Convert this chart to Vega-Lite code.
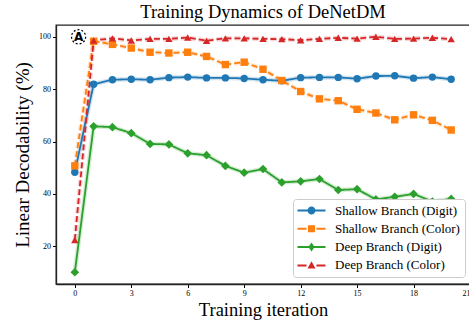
{
  "$schema": "https://vega.github.io/schema/vega-lite/v6.json",
  "width": 414,
  "height": 259,
  "autosize": {"type": "none"},
  "padding": {"left": 56, "top": 25, "right": 0, "bottom": 36},
  "background": "white",
  "config": {
    "font": "Liberation Serif",
    "view": {"stroke": "#222222", "strokeWidth": 1.3},
    "axis": {"grid": false, "domainColor": "#222222", "domainWidth": 1.3, "tickColor": "black", "labelColor": "black", "titleColor": "black", "labelFont": "Liberation Serif", "titleFont": "Liberation Serif", "labelFontSize": 8, "titleFontWeight": "normal", "tickSize": 3.5, "labelPadding": 2},
    "legend": {"labelFont": "Times New Roman", "labelFontSize": 13, "labelColor": "black"}
  },
  "title": {"text": "Training Dynamics of DeNetDM", "font": "Liberation Serif", "fontSize": 18.5, "fontWeight": "normal", "color": "black", "anchor": "middle", "offset": 4},
  "datasets": {
    "main": [
      {"x":0,"y":48.3,"series":"Shallow Branch (Digit)"},{"x":1,"y":81.9,"series":"Shallow Branch (Digit)"},{"x":2,"y":83.6,"series":"Shallow Branch (Digit)"},{"x":3,"y":83.8,"series":"Shallow Branch (Digit)"},{"x":4,"y":83.6,"series":"Shallow Branch (Digit)"},{"x":5,"y":84.4,"series":"Shallow Branch (Digit)"},{"x":6,"y":84.6,"series":"Shallow Branch (Digit)"},{"x":7,"y":84.3,"series":"Shallow Branch (Digit)"},{"x":8,"y":84.3,"series":"Shallow Branch (Digit)"},{"x":9,"y":84.1,"series":"Shallow Branch (Digit)"},{"x":10,"y":83.6,"series":"Shallow Branch (Digit)"},{"x":11,"y":83.2,"series":"Shallow Branch (Digit)"},{"x":12,"y":84.4,"series":"Shallow Branch (Digit)"},{"x":13,"y":84.5,"series":"Shallow Branch (Digit)"},{"x":14,"y":84.5,"series":"Shallow Branch (Digit)"},{"x":15,"y":84.0,"series":"Shallow Branch (Digit)"},{"x":16,"y":85.0,"series":"Shallow Branch (Digit)"},{"x":17,"y":85.1,"series":"Shallow Branch (Digit)"},{"x":18,"y":84.2,"series":"Shallow Branch (Digit)"},{"x":19,"y":84.6,"series":"Shallow Branch (Digit)"},{"x":20,"y":83.8,"series":"Shallow Branch (Digit)"},
      {"x":0,"y":50.7,"series":"Shallow Branch (Color)"},{"x":1,"y":98.3,"series":"Shallow Branch (Color)"},{"x":2,"y":97.1,"series":"Shallow Branch (Color)"},{"x":3,"y":95.7,"series":"Shallow Branch (Color)"},{"x":4,"y":94.1,"series":"Shallow Branch (Color)"},{"x":5,"y":93.8,"series":"Shallow Branch (Color)"},{"x":6,"y":94.1,"series":"Shallow Branch (Color)"},{"x":7,"y":92.5,"series":"Shallow Branch (Color)"},{"x":8,"y":89.4,"series":"Shallow Branch (Color)"},{"x":9,"y":90.3,"series":"Shallow Branch (Color)"},{"x":10,"y":87.6,"series":"Shallow Branch (Color)"},{"x":11,"y":83.3,"series":"Shallow Branch (Color)"},{"x":12,"y":79.1,"series":"Shallow Branch (Color)"},{"x":13,"y":76.3,"series":"Shallow Branch (Color)"},{"x":14,"y":75.6,"series":"Shallow Branch (Color)"},{"x":15,"y":72.3,"series":"Shallow Branch (Color)"},{"x":16,"y":70.9,"series":"Shallow Branch (Color)"},{"x":17,"y":68.3,"series":"Shallow Branch (Color)"},{"x":18,"y":70.2,"series":"Shallow Branch (Color)"},{"x":19,"y":68.1,"series":"Shallow Branch (Color)"},{"x":20,"y":64.4,"series":"Shallow Branch (Color)"},
      {"x":0,"y":10.1,"series":"Deep Branch (Digit)"},{"x":1,"y":65.8,"series":"Deep Branch (Digit)"},{"x":2,"y":65.5,"series":"Deep Branch (Digit)"},{"x":3,"y":63.2,"series":"Deep Branch (Digit)"},{"x":4,"y":59.1,"series":"Deep Branch (Digit)"},{"x":5,"y":58.9,"series":"Deep Branch (Digit)"},{"x":6,"y":55.5,"series":"Deep Branch (Digit)"},{"x":7,"y":54.8,"series":"Deep Branch (Digit)"},{"x":8,"y":50.7,"series":"Deep Branch (Digit)"},{"x":9,"y":48.1,"series":"Deep Branch (Digit)"},{"x":10,"y":49.5,"series":"Deep Branch (Digit)"},{"x":11,"y":44.4,"series":"Deep Branch (Digit)"},{"x":12,"y":44.8,"series":"Deep Branch (Digit)"},{"x":13,"y":45.7,"series":"Deep Branch (Digit)"},{"x":14,"y":41.5,"series":"Deep Branch (Digit)"},{"x":15,"y":41.8,"series":"Deep Branch (Digit)"},{"x":16,"y":37.9,"series":"Deep Branch (Digit)"},{"x":17,"y":38.9,"series":"Deep Branch (Digit)"},{"x":18,"y":40.0,"series":"Deep Branch (Digit)"},{"x":19,"y":37.1,"series":"Deep Branch (Digit)"},{"x":20,"y":38.1,"series":"Deep Branch (Digit)"},
      {"x":0,"y":22.4,"series":"Deep Branch (Color)"},{"x":1,"y":98.6,"series":"Deep Branch (Color)"},{"x":2,"y":99.4,"series":"Deep Branch (Color)"},{"x":3,"y":98.6,"series":"Deep Branch (Color)"},{"x":4,"y":99.2,"series":"Deep Branch (Color)"},{"x":5,"y":99.2,"series":"Deep Branch (Color)"},{"x":6,"y":99.7,"series":"Deep Branch (Color)"},{"x":7,"y":98.5,"series":"Deep Branch (Color)"},{"x":8,"y":99.4,"series":"Deep Branch (Color)"},{"x":9,"y":99.4,"series":"Deep Branch (Color)"},{"x":10,"y":99.2,"series":"Deep Branch (Color)"},{"x":11,"y":99.1,"series":"Deep Branch (Color)"},{"x":12,"y":98.7,"series":"Deep Branch (Color)"},{"x":13,"y":99.2,"series":"Deep Branch (Color)"},{"x":14,"y":99.6,"series":"Deep Branch (Color)"},{"x":15,"y":99.3,"series":"Deep Branch (Color)"},{"x":16,"y":100.0,"series":"Deep Branch (Color)"},{"x":17,"y":99.2,"series":"Deep Branch (Color)"},{"x":18,"y":99.3,"series":"Deep Branch (Color)"},{"x":19,"y":99.6,"series":"Deep Branch (Color)"},{"x":20,"y":99.1,"series":"Deep Branch (Color)"}
    ],
    "note": [{"x": 0.2, "y": 100, "label": "A"}]
  },
  "data": {"name": "main"},
  "encoding": {
    "x": {"field": "x", "type": "quantitative", "scale": {"domain": [-1, 21], "nice": false, "zero": false}, "axis": {"values": [0,3,6,9,12,15,18,21], "title": "Training iteration", "titleFontSize": 18.5, "titlePadding": 3}},
    "y": {"field": "y", "type": "quantitative", "scale": {"domain": [5.6, 104.5], "nice": false, "zero": false}, "axis": {"values": [20,40,60,80,100], "title": "Linear Decodability (%)", "titleFontSize": 19, "titlePadding": 6}},
    "color": {"field": "series", "type": "nominal", "scale": {"domain": ["Shallow Branch (Digit)","Shallow Branch (Color)","Deep Branch (Digit)","Deep Branch (Color)"], "range": ["#1f77b4","#ff7f0e","#2ca02c","#d62728"]}, "legend": {"title": null, "orient": "none", "legendX": 237, "legendY": 174, "fillColor": "white", "strokeColor": "#cccccc", "cornerRadius": 3, "padding": 4.5, "symbolSize": 196, "symbolStrokeWidth": 0, "symbolOpacity": 1, "rowPadding": 4.3, "labelOffset": 23.5, "labelFont": "Times New Roman", "labelFontSize": 13, "labelLimit": 300}}
  },
  "layer": [
    {
      "mark": {"type": "line", "strokeWidth": 4.5, "strokeOpacity": 0.2},
      "encoding": {"strokeDash": {"field": "series", "type": "nominal", "scale": {"domain": ["Shallow Branch (Digit)","Shallow Branch (Color)","Deep Branch (Digit)","Deep Branch (Color)"], "range": [[1,0],[6,3],[1,0],[6,3]]}, "legend": null}}
    },
    {
      "mark": {"type": "line", "strokeWidth": 1.8},
      "encoding": {"strokeDash": {"field": "series", "type": "nominal", "legend": null}}
    },
    {
      "transform": [{"filter": "datum.series === 'Shallow Branch (Digit)'"}],
      "mark": {"type": "point", "shape": "circle", "filled": true, "opacity": 1, "size": 55}
    },
    {
      "transform": [{"filter": "datum.series === 'Shallow Branch (Color)'"}],
      "mark": {"type": "point", "shape": "square", "filled": true, "opacity": 1, "size": 55}
    },
    {
      "transform": [{"filter": "datum.series === 'Deep Branch (Digit)'"}],
      "mark": {"type": "point", "shape": "diamond", "filled": true, "opacity": 1, "size": 75}
    },
    {
      "transform": [{"filter": "datum.series === 'Deep Branch (Color)'"}],
      "mark": {"type": "point", "shape": "triangle-up", "filled": true, "opacity": 1, "size": 55}
    },
    {
      "transform": [{"filter": "datum.x < -100"}],
      "mark": {"type": "point", "filled": true, "opacity": 1},
      "encoding": {"shape": {"field": "series", "type": "nominal", "scale": {"domain": ["Shallow Branch (Digit)","Shallow Branch (Color)","Deep Branch (Digit)","Deep Branch (Color)"], "range": [
        "M-1,-0.14H3V0.14H-1Z M0.43,0A0.57,0.57 0 1,1 1.57,0A0.57,0.57 0 1,1 0.43,0Z",
        "M-1,-0.14H0.29V0.14H-1Z M1.71,-0.14H3V0.14H1.71Z M0.5,-0.5H1.5V0.5H0.5Z",
        "M-1,-0.14H3V0.14H-1Z M1,-0.64L1.45,0L1,0.64L0.55,0Z",
        "M-1,-0.14H0.29V0.14H-1Z M1.71,-0.14H3V0.14H1.71Z M1,-0.6L1.57,0.43H0.43Z"
      ]}, "legend": {"title": null, "labelFont": "Times New Roman", "labelFontSize": 13, "labelLimit": 300}}}
    },
    {
      "data": {"name": "note"},
      "mark": {"type": "point", "shape": "circle", "size": 200, "stroke": "black", "strokeWidth": 1.2, "strokeDash": [2, 2], "fill": "white", "filled": false, "opacity": 1},
      "encoding": {"color": {"value": "black"}}
    },
    {
      "data": {"name": "note"},
      "mark": {"type": "text", "font": "DejaVu Sans", "fontWeight": "bold", "fontSize": 12, "baseline": "middle", "align": "center", "dy": 0.5},
      "encoding": {"text": {"field": "label"}, "color": {"value": "black"}}
    }
  ]
}
